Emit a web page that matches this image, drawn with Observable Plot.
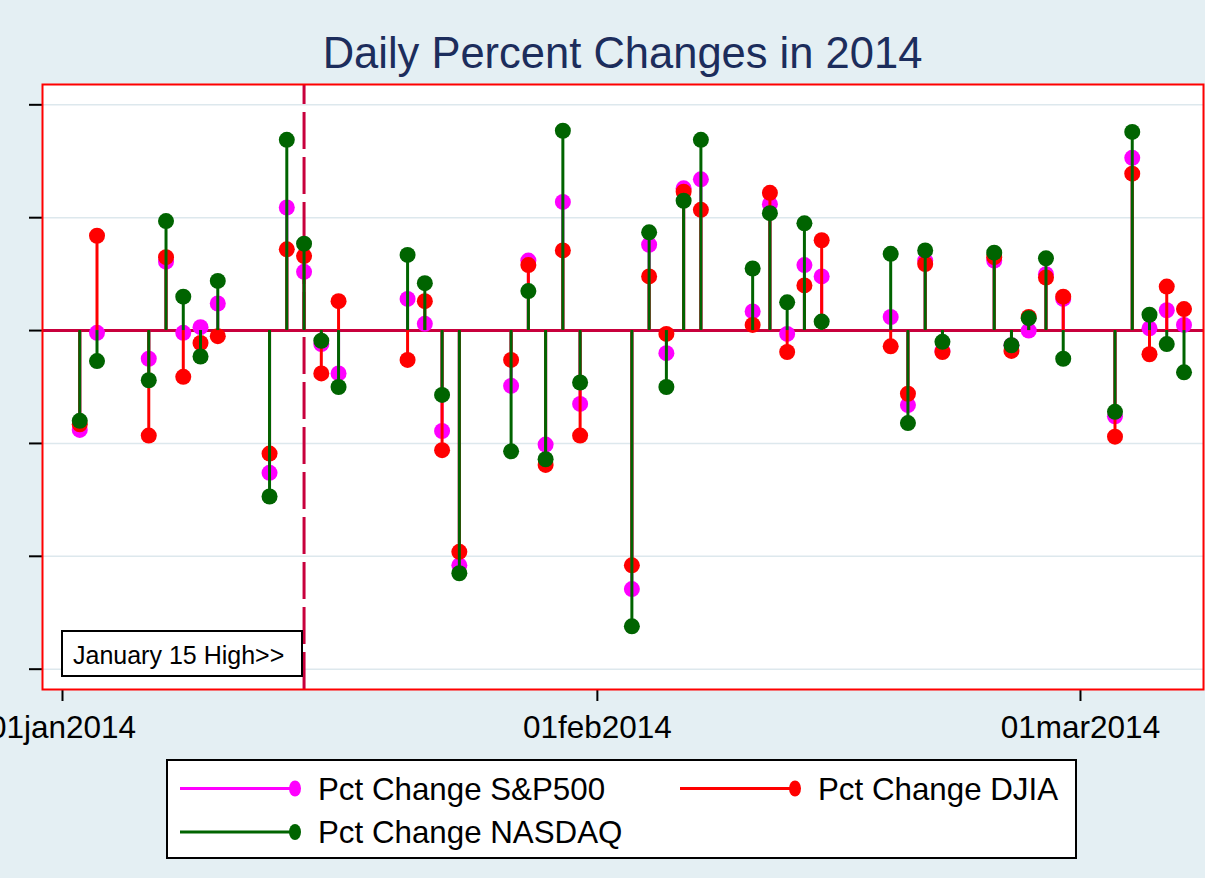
<!DOCTYPE html>
<html>
<head>
<meta charset="utf-8">
<script src="https://cdn.jsdelivr.net/npm/d3@7"></script>
<script src="https://cdn.jsdelivr.net/npm/@observablehq/plot@0.6"></script>
<style>
html, body { margin: 0; padding: 0; background: #e4eff3; }
#page { position: relative; width: 1205px; height: 878px; overflow: hidden; background: #e4eff3;
  font-family: "Liberation Sans", Arial, sans-serif; }
#title { position: absolute; left: 42px; top: 31px; width: 1161px; text-align: center;
  font-size: 43.5px; line-height: 44px; color: #1c2d5c; white-space: nowrap; }
#chart { position: absolute; left: 0; top: 82px; }
#note { position: absolute; top: 630px; height: 47px; box-sizing: border-box; border: 2px solid #000;
  background: #fff; font-size: 25px; line-height: 24px; padding: 11px 0 0 10px; color: #000; white-space: nowrap; }
#legend { position: absolute; left: 166px; top: 759px; }
</style>
</head>
<body>
<div id="page">
  <div id="title"></div>
  <div id="chart"></div>
  <div id="note"></div>
  <div id="legend"></div>
</div>
<script>
// ---- data ----
const dates = [
  "2014-01-02","2014-01-03","2014-01-06","2014-01-07","2014-01-08","2014-01-09","2014-01-10",
  "2014-01-13","2014-01-14","2014-01-15","2014-01-16","2014-01-17","2014-01-21","2014-01-22",
  "2014-01-23","2014-01-24","2014-01-27","2014-01-28","2014-01-29","2014-01-30","2014-01-31",
  "2014-02-03","2014-02-04","2014-02-05","2014-02-06","2014-02-07","2014-02-10","2014-02-11",
  "2014-02-12","2014-02-13","2014-02-14","2014-02-18","2014-02-19","2014-02-20","2014-02-21",
  "2014-02-24","2014-02-25","2014-02-26","2014-02-27","2014-02-28",
  "2014-03-03","2014-03-04","2014-03-05","2014-03-06","2014-03-07"
];
const spChange = [
  -0.88,-0.02,-0.25,0.61,-0.02,0.03,0.24,
  -1.26,1.09,0.52,-0.12,-0.38,0.28,0.06,
  -0.89,-2.08,-0.49,0.62,-1.01,1.14,-0.65,
  -2.29,0.76,-0.20,1.26,1.34,0.17,1.12,
  -0.03,0.58,0.48,0.12,-0.66,0.62,-0.18,
  0.62,-0.13,0.00,0.50,0.28,
  -0.76,1.53,0.02,0.18,0.05
];
const djChange = [
  -0.83,0.84,-0.93,0.65,-0.41,-0.11,-0.05,
  -1.09,0.72,0.66,-0.38,0.26,-0.26,0.26,
  -1.06,-1.96,-0.26,0.58,-1.19,0.71,-0.93,
  -2.08,0.48,-0.03,1.23,1.07,0.05,1.22,
  -0.19,0.40,0.80,-0.14,-0.56,0.59,-0.19,
  0.65,-0.18,0.12,0.47,0.30,
  -0.94,1.39,-0.21,0.39,0.19
];
const nqChange = [
  -0.80,-0.27,-0.44,0.97,0.30,-0.23,0.44,
  -1.47,1.69,0.77,-0.09,-0.50,0.67,0.42,
  -0.57,-2.15,-1.07,0.35,-1.14,1.77,-0.46,
  -2.62,0.87,-0.50,1.15,1.69,0.55,1.04,
  0.25,0.95,0.08,0.68,-0.82,0.71,-0.10,
  0.69,-0.13,0.11,0.64,-0.25,
  -0.72,1.76,0.14,-0.12,-0.37
];
const seriesNames = ["Pct Change S&P500", "Pct Change DJIA", "Pct Change NASDAQ"];
const seriesKeys = ["sp", "dj", "nq"];
const seriesColors = ["#ff00ff", "#ff0000", "#006400"];
const xTickDates = ["2014-01-01", "2014-02-01", "2014-03-01"];
const yTicks = [-3, -2, -1, 0, 1, 2];
const yDomain = [-3.18, 2.18];
const highDate = "2014-01-15";
const titleText = "Daily Percent Changes in 2014";
const noteText = "January 15 High>>";

// ---- build ----
const table = dates.map((d, i) => ({ date: new Date(d), sp: spChange[i], dj: djChange[i], nq: nqChange[i] }));
const day = 864e5;
const jan1 = Date.UTC(2014, 0, 1);
const xDomain = [new Date(jan1 - 1.159 * day), new Date(jan1 + 66.13 * day)];
const zeroColor = "#c8003c";

const seriesMarks = seriesKeys.flatMap((k, i) => [
  Plot.ruleX(table, { x: "date", y1: 0, y2: k, stroke: seriesColors[i], strokeWidth: 3 }),
  Plot.dot(table, { x: "date", y: k, r: 8, fill: seriesColors[i], stroke: "none" })
]);

const chart = Plot.plot({
  width: 1205, height: 675,
  marginLeft: 42, marginRight: 2, marginTop: 2, marginBottom: 68,
  style: { background: "transparent", fontFamily: "'Liberation Sans', Arial, sans-serif", overflow: "visible" },
  x: { type: "utc", domain: xDomain, axis: null },
  y: { domain: yDomain, axis: null },
  marks: [
    Plot.frame({ fill: "white" }),
    Plot.gridY(yTicks.filter(d => d !== 0), { stroke: "#dde8ed", strokeOpacity: 1, strokeWidth: 1.5 }),
    Plot.ruleY([0], { stroke: zeroColor, strokeWidth: 3 }),
    Plot.ruleX([highDate], { x: d => new Date(d), y1: yDomain[0], y2: yDomain[1], stroke: zeroColor, strokeWidth: 3, strokeDasharray: "37,8" }),
    ...seriesMarks,
    Plot.axisY({ ticks: yTicks, tickSize: 13, tickFormat: () => "", label: null, stroke: "black", strokeWidth: 2 }),
    Plot.axisX({ ticks: xTickDates.map(d => new Date(d)), tickSize: 12, tickPadding: 14,
      tickFormat: d => d3.utcFormat("%d%b%Y")(d).toLowerCase(), label: null,
      fontSize: 31.5, stroke: "black", strokeWidth: 2, fill: "black" }),
    Plot.frame({ stroke: "red", strokeWidth: 2 })
  ]
});
document.getElementById("chart").appendChild(chart);
document.getElementById("title").textContent = titleText;

// annotation box, right edge at the Jan 15 line
const note = document.getElementById("note");
note.textContent = noteText;
const xHigh = chart.scale("x").apply(new Date(highDate));
note.style.left = "61px";
note.style.width = (xHigh - 1 - 61) + "px";

// legend
const lw = 911, lh = 100;
const leg = d3.create("svg").attr("width", lw).attr("height", lh)
  .style("font-family", "'Liberation Sans', Arial, sans-serif");
leg.append("rect").attr("x", 1).attr("y", 1).attr("width", lw - 2).attr("height", lh - 2)
  .attr("fill", "white").attr("stroke", "black").attr("stroke-width", 2);
const slots = [[14, 29.5], [514, 29.5], [14, 73]];
seriesNames.forEach((name, i) => {
  const [x0, y0] = slots[i];
  const g = leg.append("g");
  g.append("line").attr("x1", x0).attr("x2", x0 + 115).attr("y1", y0).attr("y2", y0)
    .attr("stroke", seriesColors[i]).attr("stroke-width", 3);
  g.append("ellipse").attr("cx", x0 + 115).attr("cy", y0).attr("rx", 6).attr("ry", 8).attr("fill", seriesColors[i]);
  g.append("text").attr("x", x0 + 138).attr("y", y0 + 11).attr("font-size", 31.3).attr("fill", "black").text(name);
});
document.getElementById("legend").appendChild(leg.node());
</script>
</body>
</html>
